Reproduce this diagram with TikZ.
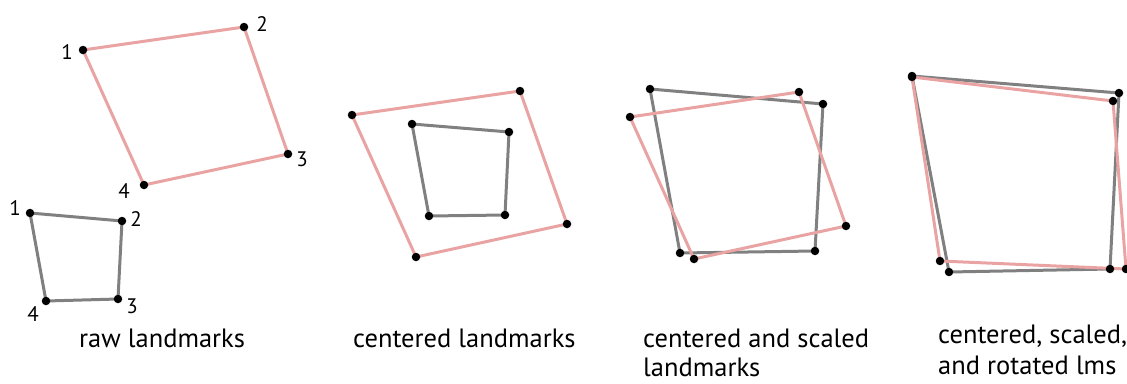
\documentclass[tikz,border=0pt]{standalone}
\usepackage{fontspec}
\setmainfont{PT Sans}
\definecolor{pinkline}{HTML}{E9A3A3}
\definecolor{grayline}{HTML}{808080}
\tikzset{
  dot/.style={circle,fill=black,inner sep=0pt,minimum size=8.5pt},
  redpoly/.style={draw=pinkline,line width=3pt,line join=round},
  graypoly/.style={draw=grayline,line width=3pt,line join=round},
  num/.style={font=\fontsize{21}{21}\selectfont,inner sep=0pt},
  caption/.style={font=\fontsize{26.5}{30}\selectfont,inner sep=0pt,anchor=base west}
}
\begin{document}
\begin{tikzpicture}[x=1pt,y=-1pt]
\useasboundingbox (0,0) rectangle (1127,383);
% ---------- panel 1 ----------
\coordinate (ra1) at (83,50);
\coordinate (ra2) at (244,27);
\coordinate (ra3) at (288,154);
\coordinate (ra4) at (144,185);
\coordinate (ga1) at (30,213);
\coordinate (ga2) at (122,221);
\coordinate (ga3) at (118,299);
\coordinate (ga4) at (46,301);
\draw[redpoly] (ra1) -- (ra2) -- (ra3) -- (ra4) -- cycle;
\draw[graypoly] (ga1) -- (ga2) -- (ga3) -- (ga4) -- cycle;
\foreach \p in {ra1,ra2,ra3,ra4,ga1,ga2,ga3,ga4} \node[dot] at (\p) {};
\node[num] (la1) at (67,52) {1};
\node[num] (la2) at (262,24) {2};
\node[num] (la3) at (302,159) {3};
\node[num] (la4) at (124,191) {4};
\node[num] (lb1) at (15,208) {1};
\node[num] (lb2) at (136,219) {2};
\node[num] (lb3) at (132,306) {3};
\node[num] (lb4) at (33,314) {4};
\node[caption] (c1) at (79,347) {raw landmarks};
% ---------- panel 2 ----------
\coordinate (rb1) at (352,115);
\coordinate (rb2) at (520,91);
\coordinate (rb3) at (567,224);
\coordinate (rb4) at (416,257);
\coordinate (gb1) at (412,124);
\coordinate (gb2) at (509,132);
\coordinate (gb3) at (505,215);
\coordinate (gb4) at (429,216);
\draw[redpoly] (rb1) -- (rb2) -- (rb3) -- (rb4) -- cycle;
\draw[graypoly] (gb1) -- (gb2) -- (gb3) -- (gb4) -- cycle;
\foreach \p in {rb1,rb2,rb3,rb4,gb1,gb2,gb3,gb4} \node[dot] at (\p) {};
\node[caption] (c2) at (353,347) {centered landmarks};
% ---------- panel 3 ----------
\coordinate (rc1) at (630,117);
\coordinate (rc2) at (799,92);
\coordinate (rc3) at (846,226);
\coordinate (rc4) at (694,259);
\coordinate (gc1) at (650,89);
\coordinate (gc2) at (823,104);
\coordinate (gc3) at (815,251);
\coordinate (gc4) at (680,253);
\draw[graypoly] (gc1) -- (gc2) -- (gc3) -- (gc4) -- cycle;
\draw[redpoly] (rc1) -- (rc2) -- (rc3) -- (rc4) -- cycle;
\foreach \p in {rc1,rc2,rc3,rc4,gc1,gc2,gc3,gc4} \node[dot] at (\p) {};
\node[caption] (c3a) at (643,347) {centered and scaled};
\node[caption] (c3b) at (643,376) {landmarks};
% ---------- panel 4 ----------
\coordinate (rd1) at (912,77);
\coordinate (rd2) at (1113,101);
\coordinate (rd3) at (1126,269);
\coordinate (rd4) at (940,261);
\coordinate (gd1) at (912,76);
\coordinate (gd2) at (1119,93);
\coordinate (gd3) at (1110,269);
\coordinate (gd4) at (949,272);
\draw[graypoly] (gd1) -- (gd2) -- (gd3) -- (gd4) -- cycle;
\draw[redpoly] (rd1) -- (rd2) -- (rd3) -- (rd4) -- cycle;
\foreach \p in {rd1,rd2,rd3,rd4,gd1,gd2,gd3,gd4} \node[dot] at (\p) {};
\node[caption] (c4a) at (938,343) {centered, scaled,};
\node[caption] (c4b) at (938,374) {and rotated lms};
\end{tikzpicture}
\end{document}
